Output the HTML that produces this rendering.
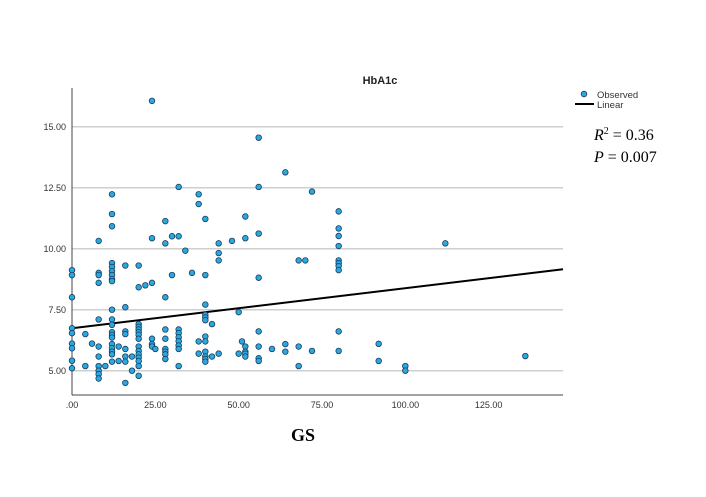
<!DOCTYPE html>
<html><head><meta charset="utf-8"><style>
body{margin:0;background:#fff;}
svg{display:block;font-family:"Liberation Sans",sans-serif;}
</style></head><body>
<svg id="chart" width="706" height="497">
<g id="grid"></g>
<g id="axes"></g>
<g id="fit"></g>
<g id="pts"></g>
<text x="380" y="84" text-anchor="middle" font-size="11" font-weight="bold" fill="#222">HbA1c</text>
<text x="303" y="441" text-anchor="middle" font-size="18" font-weight="bold" font-family="Liberation Serif,serif">GS</text>
<g>
<circle cx="584" cy="94" r="2.8" fill="#29a9e0" stroke="#1a3a5a" stroke-width="0.8"/>
<text x="597" y="98" font-size="9.5" fill="#333">Observed</text>
<line x1="575" y1="104" x2="594" y2="104" stroke="#000" stroke-width="2"/>
<text x="597" y="108" font-size="9.5" fill="#333">Linear</text>
</g>
<text x="594" y="140" font-size="16" font-family="Liberation Serif,serif"><tspan font-style="italic">R</tspan><tspan font-size="10" dy="-6">2</tspan><tspan dy="6"> = 0.36</tspan></text>
<text x="594" y="162" font-size="16" font-family="Liberation Serif,serif"><tspan font-style="italic">P</tspan> = 0.007</text>
</svg>
<script>
const xTicks=[0,25,50,75,100,125];
const xTickLabels=[".00","25.00","50.00","75.00","100.00","125.00"];
const yTicks=[5,7.5,10,12.5,15];
const yTickLabels=["5.00","7.50","10.00","12.50","15.00"];
const gsValues=[0,0,0,0,0,0,0,0,0,4,4,6,8,8,8,8,8,8,8,8,8,8,8,10,
12,12,12,12,12,12,12,12,12,12,12,12,12,12,12,12,12,12,12,12,14,14,16,16,16,16,16,16,16,16,18,18,
20,20,20,20,20,20,20,20,20,20,20,20,20,20,20,22,24,24,24,24,24,24,25,
28,28,28,28,28,28,28,28,28,30,30,32,32,32,32,32,32,32,32,32,34,36,38,38,38,38,
40,40,40,40,40,40,40,40,40,40,40,40,42,42,44,44,44,44,48,50,50,51,52,52,52,52,52,52,
56,56,56,56,56,56,56,56,60,64,64,64,68,68,68,70,72,72,80,80,80,80,80,80,80,80,80,80,92,92,100,100,112,136];
const hba1cValues=[9.12,8.92,8.01,6.74,6.54,6.11,5.92,5.41,5.10,6.5,5.19,6.11,10.32,9.01,8.92,8.6,7.1,5.99,5.58,5.19,5.0,4.86,4.68,5.19,
12.23,11.42,10.92,9.41,9.25,9.08,8.92,8.75,8.67,7.5,7.1,6.88,6.58,6.47,6.36,6.09,5.92,5.78,5.67,5.37,5.99,5.4,9.31,7.6,6.61,6.5,5.89,5.58,5.37,4.5,5.58,5.0,
9.31,8.42,6.91,6.8,6.69,6.58,6.47,6.31,5.99,5.81,5.67,5.54,5.4,5.19,4.79,8.5,16.06,10.43,8.6,6.31,6.09,5.99,5.89,
11.13,10.22,8.01,6.69,6.31,5.89,5.78,5.67,5.48,10.51,8.92,12.53,10.51,6.69,6.54,6.37,6.21,6.03,5.89,5.19,9.92,9.01,12.23,11.83,6.2,5.7,
11.22,8.92,7.71,7.29,7.18,7.07,6.4,6.2,5.78,5.58,5.48,5.37,6.91,5.58,10.22,9.82,9.52,5.7,10.32,7.4,5.7,6.2,11.32,10.43,5.99,5.78,5.7,5.58,
14.55,12.53,10.62,8.81,6.61,5.99,5.51,5.4,5.89,13.13,6.09,5.78,9.52,5.99,5.19,9.52,12.34,5.81,11.53,10.83,10.52,10.11,9.52,9.41,9.29,9.12,6.61,5.81,6.1,5.4,5.19,5.0,10.22,5.6];
const fitIntercept=6.74, fitSlope=0.0164;
const xMin=0,xMax=147.3,yMin=4.0,yMax=16.6;
const L=72,R=563,T=88,B=395;
const sx=v=>L+(v-xMin)/(xMax-xMin)*(R-L);
const sy=v=>370.7-(v-5)*24.4;
const NS="http://www.w3.org/2000/svg";
function mk(t,a,p){const e=document.createElementNS(NS,t);for(const k in a)e.setAttribute(k,a[k]);p.appendChild(e);return e;}
const grid=document.getElementById('grid'),axes=document.getElementById('axes'),fit=document.getElementById('fit'),pts=document.getElementById('pts');
yTicks.forEach((v,i)=>{
 const g=mk('line',{x1:L,x2:R,y1:sy(v),y2:sy(v),stroke:'#cfcfcf','stroke-width':1.5},grid);
 
 
 const t=mk('text',{x:L-6,y:sy(v)+3.5,'text-anchor':'end','font-size':9,fill:'#333'},axes);
 t.textContent=yTickLabels[i];
 
 
});
xTicks.forEach((v,i)=>{
 const t=mk('text',{x:sx(v),y:B+13,'text-anchor':'middle','font-size':9,fill:'#333'},axes);
 t.textContent=xTickLabels[i];
 
 
});
const ya=mk('line',{x1:L,x2:L,y1:T,y2:B,stroke:'#444','stroke-width':1},axes);


const xa=mk('line',{x1:L,x2:R,y1:B,y2:B,stroke:'#444','stroke-width':1},axes);


gsValues.forEach((g,i)=>{
 const c=mk('circle',{cx:sx(g),cy:sy(hba1cValues[i]),r:2.8,fill:'#29a9e0',stroke:'#1a3a5a','stroke-width':0.8},pts);
 
 
});
const fl=mk('line',{x1:sx(xMin),y1:sy(fitIntercept+fitSlope*xMin),x2:sx(xMax),y2:sy(fitIntercept+fitSlope*xMax),stroke:'#000','stroke-width':2},fit);


</script>
</body></html>
